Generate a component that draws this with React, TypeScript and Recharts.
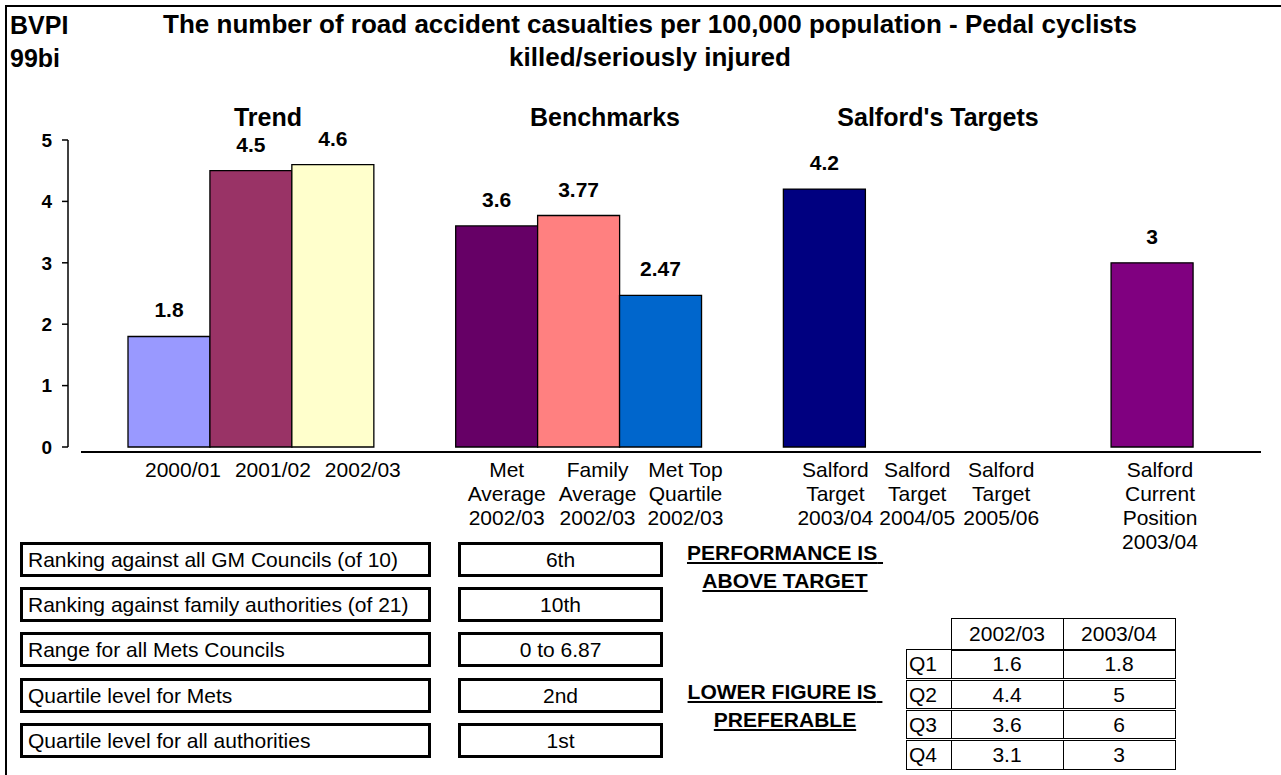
import { Bar, BarChart, Cell, LabelList, XAxis, YAxis } from 'recharts';

/* Excel-ish palette, one colour per bar */
const categories = [
  '2000/01',
  '2001/02',
  '2002/03',
  '',
  'Met\nAverage\n2002/03',
  'Family\nAverage\n2002/03',
  'Met Top\nQuartile\n2002/03',
  '',
  'Salford\nTarget\n2003/04',
  'Salford\nTarget\n2004/05',
  'Salford\nTarget\n2005/06',
  '',
  'Salford\nCurrent\nPosition\n2003/04',
];
const values = [1.8, 4.5, 4.6, null, 3.6, 3.77, 2.47, null, 4.2, null, null, null, 3];
const valueLabels = ['1.8', '4.5', '4.6', '', '3.6', '3.77', '2.47', '', '4.2', '', '', '', '3'];
const barColors = [
  '#9999FF', '#993366', '#FFFFCC', '#ffffff',
  '#660066', '#FF8080', '#0066CC', '#ffffff',
  '#000080', '#ffffff', '#ffffff', '#ffffff',
  '#800080',
];
const yTicks = [0, 1, 2, 3, 4, 5];

const sectionTitles = ['Trend', 'Benchmarks', "Salford's Targets"];

const rankingLabels = [
  'Ranking against all GM Councils (of 10)',
  'Ranking against family authorities (of 21)',
  'Range for all Mets Councils',
  'Quartile level for Mets',
  'Quartile level for all authorities',
];
const rankingValues = ['6th', '10th', '0 to 6.87', '2nd', '1st'];

const quartileYears = ['2002/03', '2003/04'];
const quartileNames = ['Q1', 'Q2', 'Q3', 'Q4'];
const quartiles0203 = ['1.6', '4.4', '3.6', '3.1'];
const quartiles0304 = ['1.8', '5', '6', '3'];

const FONT = '"Liberation Sans", Arial, sans-serif';

// Excel lays the wrapped category text out a little right of each bar
const tickNudge = [14, 22, 30, 0, 10, 19, 25, 0, 11, 11, 13, 0, 8];
const headingCenters = [268, 605, 938];
const boxTops = [542, 587, 632, 678, 723];

const data = categories.map((name, i) => ({ name, value: values[i], label: valueLabels[i] }));

function CategoryTick({ x, y, payload, index }: any) {
  const lines = String(payload.value).split('\n');
  const cx = x + (tickNudge[index] ?? 0);
  return (
    <text x={cx} y={y + 30} textAnchor="middle" fontFamily={FONT} fontSize={21} fill="#000">
      {lines.map((line, i) => (
        <tspan key={i} x={cx} dy={i === 0 ? 0 : 24}>
          {line}
        </tspan>
      ))}
    </text>
  );
}

export default function App() {
  return (
    <div
      style={{
        position: 'absolute',
        left: 0,
        top: 0,
        width: 1281,
        height: 775,
        overflow: 'hidden',
        background: '#fff',
        fontFamily: FONT,
        color: '#000',
      }}
    >
      <div
        style={{
          position: 'absolute',
          left: 5,
          top: 5,
          width: 1400,
          height: 900,
          borderTop: '2px solid #000',
          borderLeft: '2px solid #000',
        }}
      />

      <BarChart
        width={1281}
        height={775}
        data={data}
        barCategoryGap={0}
        margin={{ top: 140, right: 20, bottom: 298, left: 8 }}
        style={{ position: 'absolute', left: 0, top: 0 }}
      >
        <XAxis
          dataKey="name"
          interval={0}
          tickLine={false}
          tickSize={0}
          tickMargin={0}
          height={30}
          padding={{ left: 60, right: 68 }}
          axisLine={false}
          tick={<CategoryTick />}
        />
        <YAxis
          domain={[0, 5]}
          ticks={yTicks}
          width={60}
          tickSize={6}
          tickMargin={10}
          axisLine={{ stroke: '#000', strokeWidth: 1.5 }}
          tickLine={{ stroke: '#000', strokeWidth: 1.5 }}
          tick={{ fill: '#000', fontSize: 19, fontWeight: 'bold', fontFamily: FONT }}
        />
        <Bar dataKey="value" stroke="#000" strokeWidth={1.3} isAnimationActive={false}>
          {data.map((d, i) => (
            <Cell key={i} fill={barColors[i]} />
          ))}
          <LabelList
            dataKey="label"
            position="top"
            offset={19}
            fill="#000"
            fontSize={21}
            fontWeight="bold"
            fontFamily={FONT}
          />
        </Bar>
      </BarChart>

      {/* category axis line, drawn a few px under the bars as in the original */}
      <div style={{ position: 'absolute', left: 81, top: 451, width: 1180, height: 2, background: '#000' }} />

      {/* header */}
      <div style={{ position: 'absolute', left: 10, top: 9, fontSize: 25, fontWeight: 'bold', lineHeight: '33px' }}>
        BVPI
        <br />
        99bi
      </div>
      <div
        style={{
          position: 'absolute',
          left: 150,
          top: 8,
          width: 1000,
          textAlign: 'center',
          fontSize: 26,
          fontWeight: 'bold',
          lineHeight: '33px',
        }}
      >
        The number of road accident casualties per 100,000 population - Pedal cyclists
        <br />
        killed/seriously injured
      </div>

      {sectionTitles.map((t, i) => (
        <div
          key={t}
          style={{
            position: 'absolute',
            left: headingCenters[i] - 150,
            top: 102,
            width: 300,
            textAlign: 'center',
            fontSize: 25,
            fontWeight: 'bold',
            lineHeight: '30px',
          }}
        >
          {t}
        </div>
      ))}

      {/* ranking boxes */}
      {rankingLabels.map((label, i) => (
        <div key={label}>
          <div
            style={{
              position: 'absolute',
              left: 20,
              top: boxTops[i],
              width: 411,
              height: 35,
              boxSizing: 'border-box',
              border: '3px solid #000',
              display: 'flex',
              alignItems: 'center',
              paddingLeft: 5,
              fontSize: 21,
              whiteSpace: 'nowrap',
            }}
          >
            {label}
          </div>
          <div
            style={{
              position: 'absolute',
              left: 458,
              top: boxTops[i],
              width: 205,
              height: 35,
              boxSizing: 'border-box',
              border: '3px solid #000',
              display: 'flex',
              alignItems: 'center',
              justifyContent: 'center',
              fontSize: 21,
            }}
          >
            {rankingValues[i]}
          </div>
        </div>
      ))}

      <div
        style={{
          position: 'absolute',
          left: 635,
          top: 539,
          width: 300,
          textAlign: 'center',
          fontSize: 21,
          fontWeight: 'bold',
          lineHeight: '28px',
          textDecoration: 'underline',
        }}
      >
        PERFORMANCE IS{'\u00a0'}
        <br />
        ABOVE TARGET
      </div>
      <div
        style={{
          position: 'absolute',
          left: 635,
          top: 678,
          width: 300,
          textAlign: 'center',
          fontSize: 21,
          fontWeight: 'bold',
          lineHeight: '28px',
          textDecoration: 'underline',
        }}
      >
        LOWER FIGURE IS{'\u00a0'}
        <br />
        PREFERABLE
      </div>

      {/* quartile table */}
      <table
        style={{
          position: 'absolute',
          left: 906,
          top: 618,
          borderCollapse: 'collapse',
          fontSize: 21,
          fontFamily: FONT,
        }}
      >
        <tbody>
          <tr style={{ height: 31 }}>
            <td style={{ width: 44, padding: 0 }} />
            {quartileYears.map((y) => (
              <td
                key={y}
                style={{ width: 111, padding: 0, border: '1px solid #000', textAlign: 'center' }}
              >
                {y}
              </td>
            ))}
          </tr>
          {quartileNames.map((q, i) => (
            <tr key={q} style={{ height: 30 }}>
              <td
                style={{
                  padding: '0 0 0 2px',
                  border: '1px solid #000',
                  borderTop: i === 0 ? '1px solid #000' : '3px double #000',
                }}
              >
                {q}
              </td>
              <td
                style={{
                  padding: 0,
                  border: '1px solid #000',
                  borderTop: i === 0 ? '2px solid #000' : '3px double #000',
                  textAlign: 'center',
                }}
              >
                {quartiles0203[i]}
              </td>
              <td
                style={{
                  padding: 0,
                  border: '1px solid #000',
                  borderTop: i === 0 ? '2px solid #000' : '3px double #000',
                  textAlign: 'center',
                }}
              >
                {quartiles0304[i]}
              </td>
            </tr>
          ))}
        </tbody>
      </table>
    </div>
  );
}
